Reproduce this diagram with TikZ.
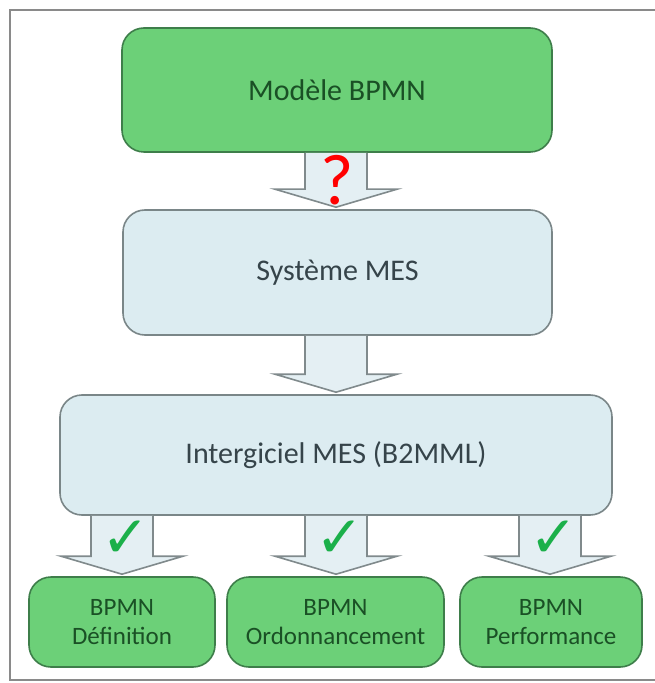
\documentclass[tikz,border=0pt]{standalone}
\usepackage{fontspec}
\setmainfont{Carlito}
\newfontfamily\symfont{DejaVu Sans}
\usetikzlibrary{calc}
\definecolor{gfill}{HTML}{6CD078}
\definecolor{gdraw}{HTML}{3E7E4A}
\definecolor{gtext}{HTML}{1A5025}
\definecolor{bfill}{HTML}{DCECF1}
\definecolor{bdraw}{HTML}{7A8688}
\definecolor{btext}{HTML}{36444A}
\definecolor{afill}{HTML}{E4EFF3}
\definecolor{adraw}{HTML}{808A8C}
\definecolor{framec}{HTML}{8A8A8A}
\definecolor{checkc}{HTML}{1BB04A}
\tikzset{
  box/.style={rounded corners=11pt, line width=0.8pt, inner sep=0pt, align=center},
  greenbox/.style={box, fill=gfill, draw=gdraw, text=gtext},
  bluebox/.style={box, fill=bfill, draw=bdraw, text=btext},
  bigtext/.style={font=\fontsize{15}{18}\selectfont},
  smalltext/.style={font=\fontsize{12.5}{14.5}\selectfont},
  blk/.style={fill=afill, draw=adraw, line width=0.8pt, line join=miter},
  checkmark/.style={text=checkc, font=\symfont\fontsize{29}{29}\selectfont, inner sep=0pt},
}
\newcommand\blockarr[3]{%
  \draw[blk]
   ([xshift=-15.5pt]#3 |- #1.south) --
   ([xshift=-15.5pt,yshift=10pt]#3 |- #2.north) --
   ([xshift=-30.5pt,yshift=10pt]#3 |- #2.north) --
   ([yshift=1pt]#3 |- #2.north) --
   ([xshift=30.5pt,yshift=10pt]#3 |- #2.north) --
   ([xshift=15.5pt,yshift=10pt]#3 |- #2.north) --
   ([xshift=15.5pt]#3 |- #1.south);}
\begin{document}
\begin{tikzpicture}[x=0.5pt,y=-0.5pt]
\useasboundingbox (0,0) rectangle (654,683);
\fill[white] (0,0) rectangle (654,683);
\draw[framec, line width=0.9pt] (670,10) -- (10,10) -- (10,680) -- (670,680);

\node[greenbox, bigtext, minimum width=215pt, minimum height=62pt] (modele) at (337,90) {Modèle BPMN};
\node[bluebox, bigtext, minimum width=214.5pt, minimum height=62.5pt] (systeme) at (337.5,272.5) {Système MES};
\node[bluebox, bigtext, minimum width=276pt, minimum height=60pt] (inter) at (336,455) {Intergiciel MES (B2MML)};
\node[greenbox, smalltext, minimum width=93pt, minimum height=45pt] (def) at (122,622) {BPMN\\Définition};
\node[greenbox, smalltext, minimum width=108.5pt, minimum height=45pt] (ord) at (335.5,622) {BPMN\\Ordonnancement};
\node[greenbox, smalltext, minimum width=91pt, minimum height=45pt] (perf) at (551,622) {BPMN\\Performance};

\coordinate (xa) at (336,0);
\coordinate (xb) at (122,0);
\coordinate (xc) at (336,0);
\coordinate (xd) at (550,0);

\blockarr{modele}{systeme}{xa}
\blockarr{systeme}{inter}{xa}
\blockarr{inter}{def}{xb}
\blockarr{inter}{ord}{xc}
\blockarr{inter}{perf}{xd}

\node[text=red, font=\fontsize{36}{36}\selectfont, inner sep=0pt] (q) at (337,180) {?};
\node[checkmark] (c1) at (126,539) {✓};
\node[checkmark] (c2) at (340,539) {✓};
\node[checkmark] (c3) at (554,539) {✓};
\end{tikzpicture}
\end{document}
